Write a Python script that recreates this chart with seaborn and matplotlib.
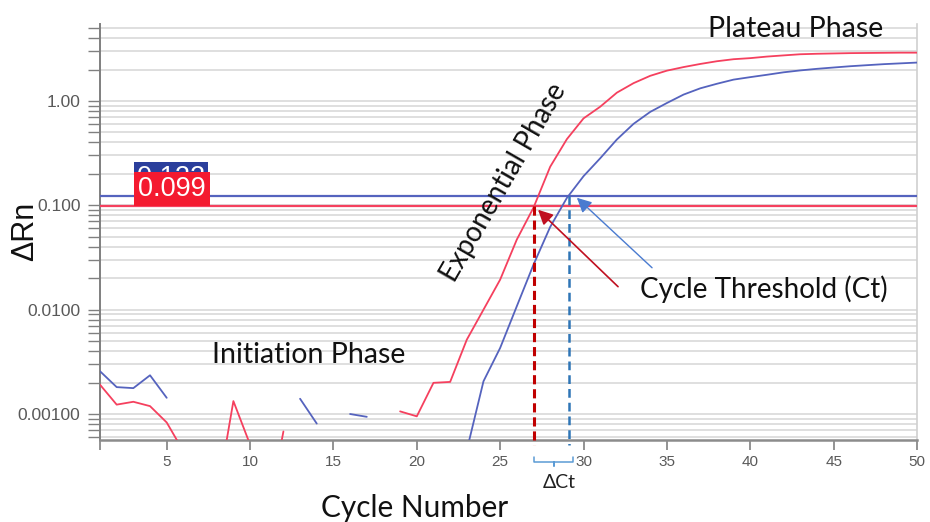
import numpy as np
import pandas as pd
import matplotlib
matplotlib.use("Agg")
import matplotlib.pyplot as plt
import matplotlib.transforms as mtransforms
from matplotlib.ticker import FixedLocator, FixedFormatter, LogLocator, NullFormatter
import seaborn as sns

nan = float("nan")

# qPCR amplification data: normalised reporter signal per cycle
cycles = list(range(1, 51))
sample_red = [0.00191, 0.00123, 0.00131, 0.00119, 0.00083, 0.00044, 0.00020, 0.000156, 0.00133, 0.00051,
              0.00010, 0.00068, nan, nan, nan, nan, nan, nan, 0.00106, 0.00095,
              0.00199, 0.00203, 0.00516, 0.0100, 0.0194, 0.047, 0.095, 0.234, 0.43, 0.68,
              0.88, 1.20, 1.48, 1.74, 1.95, 2.11, 2.26, 2.40, 2.51, 2.57,
              2.66, 2.73, 2.80, 2.83, 2.85, 2.87, 2.88, 2.89, 2.90, 2.90]
sample_blue = [0.00257, 0.00181, 0.00177, 0.00235, 0.00143, nan, nan, nan, nan, nan,
               nan, nan, 0.0014, 0.00081, nan, 0.0010, 0.00094, nan, nan, nan,
               nan, nan, 0.00045, 0.00206, 0.0043, 0.0108, 0.027, 0.062, 0.1175, 0.19,
               0.282, 0.427, 0.603, 0.785, 0.955, 1.15, 1.32, 1.46, 1.60, 1.69,
               1.78, 1.88, 1.96, 2.03, 2.09, 2.15, 2.20, 2.25, 2.29, 2.33]

samples = ["red", "blue"]
thresholds = [0.099, 0.122]
threshold_labels = ["0.099", "0.122"]
ct_values = [27.05, 29.1]

y_ticks = [0.001, 0.01, 0.1, 1.0]
y_tick_labels = ["0.00100", "0.0100", "0.100", "1.00"]
x_ticks = [1, 5, 10, 15, 20, 25, 30, 35, 40, 45, 50]
x_tick_labels = [""] + [str(v) for v in x_ticks[1:]]

line_colors = {"red": "#F5405E", "blue": "#5563BE"}
box_colors = {"red": "#F41A30", "blue": "#2B3F9C"}
ct_colors = {"red": "#C00000", "blue": "#2E75B6"}

# long-form table; gaps (non-positive readings) split each trace into segments
frames = []
for name, values in zip(samples, [sample_red, sample_blue]):
    v = np.asarray(values, dtype=float)
    seg = np.cumsum(np.isnan(v))
    d = pd.DataFrame({"cycle": cycles, "drn": v, "sample": name, "segment": seg})
    frames.append(d.dropna())
df = pd.concat(frames, ignore_index=True)

sns.set_style("white")
plt.rcParams["font.family"] = ["Liberation Sans", "DejaVu Sans"]
label_font = ["Lato", "DejaVu Sans"]

fig = plt.figure(figsize=(9.3, 5.22), dpi=100)
ax = fig.add_axes([100 / 930, 1 - 440 / 522, 817 / 930, 416 / 522])
ax.set_yscale("log")
ax.set_xlim(1, 50)
ax.set_ylim(10 ** -3.249, 10 ** 0.737)

sns.lineplot(data=df, x="cycle", y="drn", hue="sample", units="segment", estimator=None,
             palette=line_colors, linewidth=1.3, legend=False, sort=True, ax=ax, zorder=4)

# thresholds
for name, thr in zip(samples, thresholds):
    ax.axhline(thr, color=line_colors[name], lw=1.6, zorder=3)

# threshold value badges (blue sits behind red)
badge_offsets = {"blue": 1.2, "red": 0.0}
badge_pad = {"blue": 0.12, "red": 0.15}
for name, thr, lab in sorted(zip(samples, thresholds, threshold_labels), key=lambda t: t[0] != "blue"):
    p = badge_pad[name] * 19.5
    ax.annotate(lab, xy=(3.0, thr), xytext=(p + 0.3, p + badge_offsets[name]),
                textcoords="offset points", ha="left", va="bottom", color="white", fontsize=19.5,
                bbox=dict(boxstyle=f"square,pad={badge_pad[name]}", fc=box_colors[name], ec="none"),
                zorder=6)

# Ct drop lines
ct_styles = {"red": dict(lw=2.2, dashes=(3, 1.6)), "blue": dict(lw=1.8, dashes=(3.5, 2.0))}
for name, thr, ct in zip(samples, thresholds, ct_values):
    ax.plot([ct, ct], [thr, 10 ** -3.30], color=ct_colors[name], clip_on=False, zorder=5,
            **ct_styles[name])

# delta-Ct brace below the axis
trans = mtransforms.blended_transform_factory(ax.transData, ax.transAxes)
x0, x1 = ct_values[0], ct_values[1] + 0.25
xm = (x0 + x1) / 2
ax.plot([x0, x0, xm, xm, xm, x1, x1], [-0.041, -0.053, -0.053, -0.0625, -0.053, -0.053, -0.041],
        transform=trans, color="#5B9BD5", lw=1.1, clip_on=False)
ax.text(28.55, -0.101, "\u0394Ct", transform=trans, ha="center", va="center", fontsize=14,
        family=label_font, color="#222222")

# arrows pointing at the Ct crossings
ax.annotate("", xy=(27.27, 0.0906), xytext=(32.07, 0.0166),
            arrowprops=dict(arrowstyle="-|>", color="#C01020", lw=1.2, mutation_scale=22,
                            shrinkA=0, shrinkB=0), zorder=7)
ax.annotate("", xy=(29.6, 0.118), xytext=(34.11, 0.0252),
            arrowprops=dict(arrowstyle="-|>", color="#4A7BD0", lw=1.0, mutation_scale=22,
                            shrinkA=0, shrinkB=0), zorder=7)

# phase labels
ax.text(42.7, 4.10, "Plateau Phase", ha="center", va="baseline", fontsize=20.5, family=label_font,
        color="#111111", clip_on=False)
ax.text(13.54, 0.00311, "Initiation Phase", ha="center", va="baseline", fontsize=20.5,
        family=label_font, color="#111111")
ax.text(40.8, 0.0130, "Cycle Threshold (Ct)", ha="center", va="baseline", fontsize=20,
        family=label_font, color="#111111")
ax.text(25.24, 0.164, "Exponential Phase", ha="center", va="center", rotation=60,
        rotation_mode="anchor", fontsize=20, family=label_font, color="#111111")

ax.text(0.385, -0.185, "Cycle Number", transform=ax.transAxes, ha="center", va="baseline",
        fontsize=21.4, family=label_font, color="#111111")
fig.text(25 / 930, 1 - 231 / 522, "\u0394Rn", rotation=90, ha="center", va="center",
         fontsize=22, color="#111111")

# axes styling
ax.xaxis.set_major_locator(FixedLocator(x_ticks))
ax.xaxis.set_major_formatter(FixedFormatter(x_tick_labels))
ax.xaxis.set_minor_locator(FixedLocator([10, 20, 30, 40]))
ax.yaxis.set_major_locator(FixedLocator(y_ticks))
ax.yaxis.set_major_formatter(FixedFormatter(y_tick_labels))
ax.yaxis.set_minor_locator(LogLocator(base=10, subs=np.arange(2, 10)))
ax.yaxis.set_minor_formatter(NullFormatter())

ax.tick_params(axis="x", which="major", direction="out", length=7, width=1.2, color="#808080",
               labelcolor="#595959", labelsize=11, pad=3.6, bottom=True)
ax.tick_params(axis="x", which="minor", length=0)
ax.tick_params(axis="y", which="both", direction="out", length=8.6, width=1.0, color="#808080",
               left=True)
ax.tick_params(axis="y", which="major", labelcolor="#595959", labelsize=12.5, pad=5.5)

ax.grid(True, axis="y", which="both", color="#D6D6D6", lw=1.1, zorder=0)
ax.grid(True, axis="x", which="minor", color="#C4C4C4", lw=1.0, zorder=0)
ax.grid(False, axis="x", which="major")
ax.set_axisbelow(True)
ax.set_xlabel("")
ax.set_ylabel("")

ax.spines["top"].set_visible(False)
ax.spines["left"].set_color("#7F7F7F")
ax.spines["left"].set_linewidth(1.4)
ax.spines["bottom"].set_color("#8C8C8C")
ax.spines["bottom"].set_linewidth(1.8)
ax.spines["right"].set_color("#D0D0D0")
ax.spines["right"].set_linewidth(1.2)

fig.savefig("out.png", dpi=100, facecolor="white")
